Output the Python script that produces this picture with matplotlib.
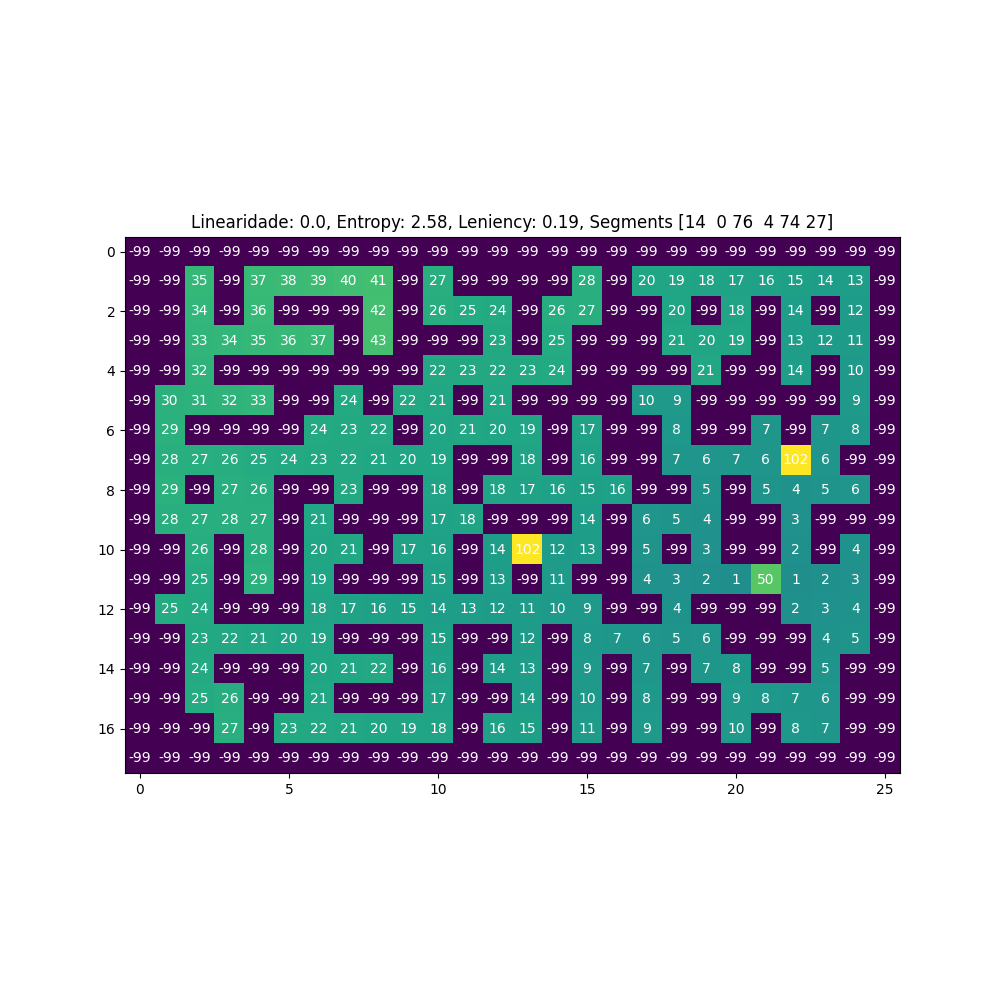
import numpy as np
import matplotlib
matplotlib.use('Agg')
import matplotlib.pyplot as plt

W = -99

row0 = [W] * 26
row1 = [W, W, 35, W, 37, 38, 39, 40, 41, W, 27, W, W, W, W, 28, W, 20, 19, 18, 17, 16, 15, 14, 13, W]
row2 = [W, W, 34, W, 36, W, W, W, 42, W, 26, 25, 24, W, 26, 27, W, W, 20, W, 18, W, 14, W, 12, W]
row3 = [W, W, 33, 34, 35, 36, 37, W, 43, W, W, W, 23, W, 25, W, W, W, 21, 20, 19, W, 13, 12, 11, W]
row4 = [W, W, 32, W, W, W, W, W, W, W, 22, 23, 22, 23, 24, W, W, W, W, 21, W, W, 14, W, 10, W]
row5 = [W, 30, 31, 32, 33, W, W, 24, W, 22, 21, W, 21, W, W, W, W, 10, 9, W, W, W, W, W, 9, W]
row6 = [W, 29, W, W, W, W, 24, 23, 22, W, 20, 21, 20, 19, W, 17, W, W, 8, W, W, 7, W, 7, 8, W]
row7 = [W, 28, 27, 26, 25, 24, 23, 22, 21, 20, 19, W, W, 18, W, 16, W, W, 7, 6, 7, 6, 102, 6, W, W]
row8 = [W, 29, W, 27, 26, W, W, 23, W, W, 18, W, 18, 17, 16, 15, 16, W, W, 5, W, 5, 4, 5, 6, W]
row9 = [W, 28, 27, 28, 27, W, 21, W, W, W, 17, 18, W, W, W, 14, W, 6, 5, 4, W, W, 3, W, W, W]
row10 = [W, W, 26, W, 28, W, 20, 21, W, 17, 16, W, 14, 102, 12, 13, W, 5, W, 3, W, W, 2, W, 4, W]
row11 = [W, W, 25, W, 29, W, 19, W, W, W, 15, W, 13, W, 11, W, W, 4, 3, 2, 1, 50, 1, 2, 3, W]
row12 = [W, 25, 24, W, W, W, 18, 17, 16, 15, 14, 13, 12, 11, 10, 9, W, W, 4, W, W, W, 2, 3, 4, W]
row13 = [W, W, 23, 22, 21, 20, 19, W, W, W, 15, W, W, 12, W, 8, 7, 6, 5, 6, W, W, W, 4, 5, W]
row14 = [W, W, 24, W, W, W, 20, 21, 22, W, 16, W, 14, 13, W, 9, W, 7, W, 7, 8, W, W, 5, W, W]
row15 = [W, W, 25, 26, W, W, 21, W, W, W, 17, W, W, 14, W, 10, W, 8, W, W, 9, 8, 7, 6, W, W]
row16 = [W, W, W, 27, W, 23, 22, 21, 20, 19, 18, W, 16, 15, W, 11, W, 9, W, W, 10, W, 8, 7, W, W]
row17 = [W] * 26

grid = np.array([row0, row1, row2, row3, row4, row5, row6, row7, row8,
                 row9, row10, row11, row12, row13, row14, row15, row16, row17])

title = 'Linearidade: 0.0, Entropy: 2.58, Leniency: 0.19, Segments [14  0 76  4 74 27]'

fig, ax = plt.subplots(figsize=(10, 10), dpi=100)
ax.imshow(grid, cmap='viridis')
for i in range(grid.shape[0]):
    for j in range(grid.shape[1]):
        ax.text(j, i, str(grid[i, j]), ha='center', va='center', color='w', fontsize=10)
ax.set_title(title)
plt.savefig('out.png')
